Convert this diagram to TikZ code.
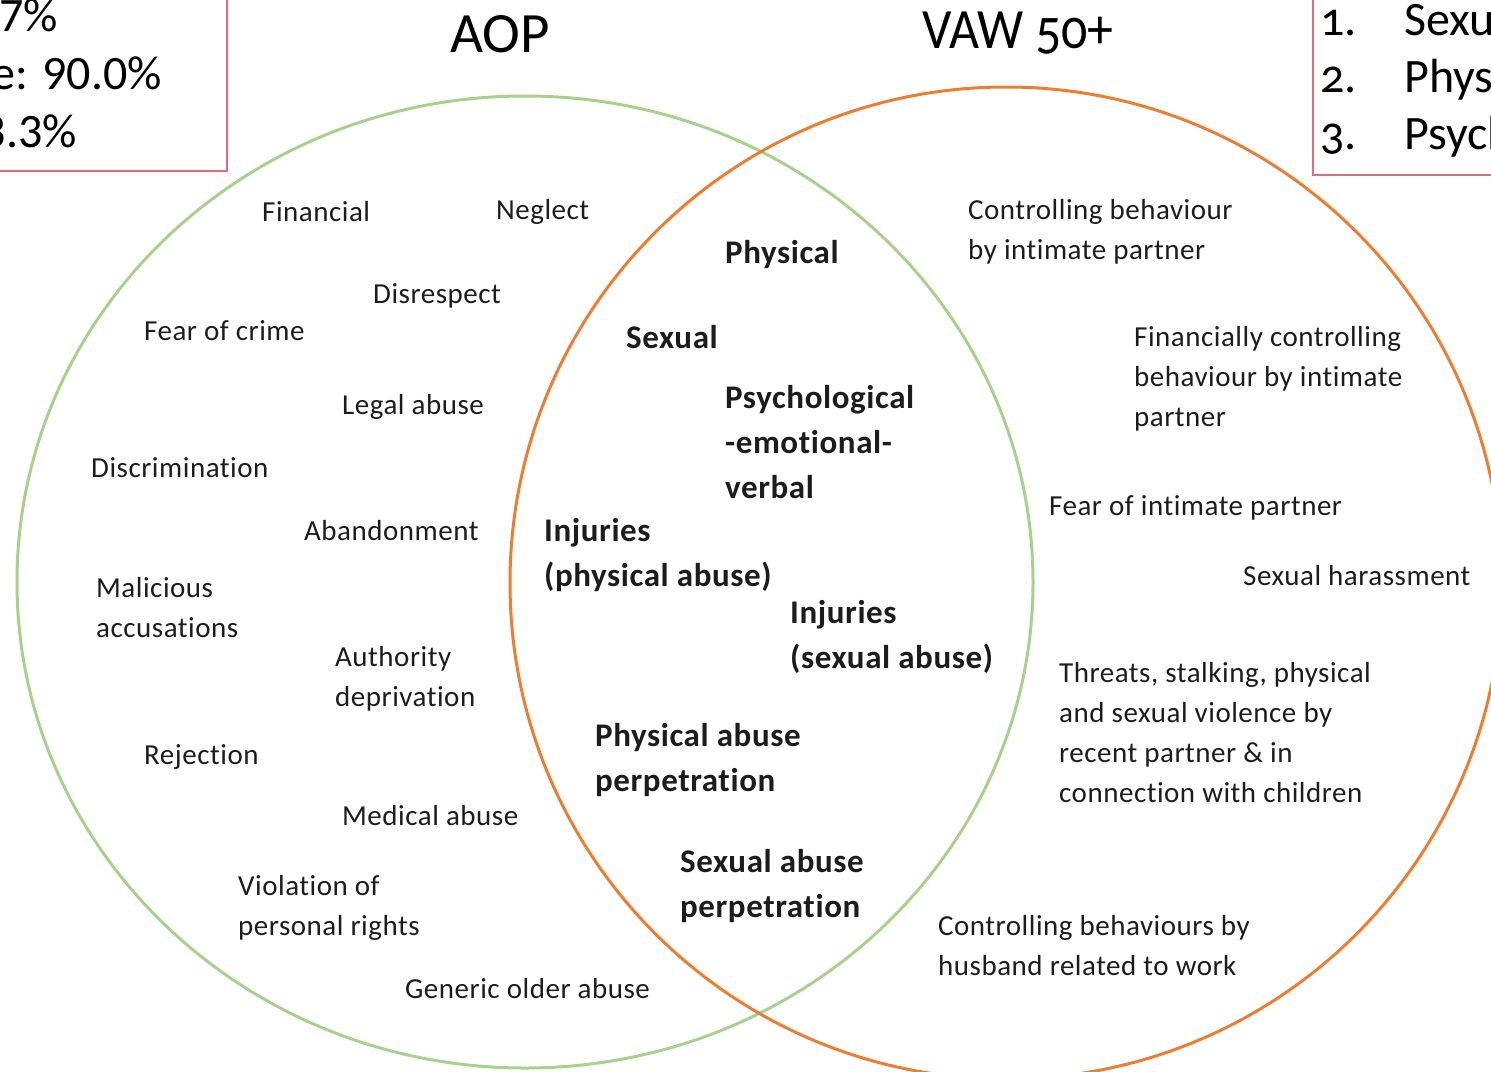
\documentclass[tikz,border=0pt]{standalone}
\usepackage{fontspec}
\setmainfont{Carlito}[Ligatures=NoCommon, LetterSpace=1.8]
\newfontfamily\oldnum{Carlito}[Ligatures=NoCommon, Numbers=OldStyle]
\newfontfamily\plainnum{Carlito}[Ligatures=NoCommon]
\usepackage{graphicx}
\usepackage{xcolor}
\usepackage{tikz}

\definecolor{aopgreen}{RGB}{169,209,142}
\definecolor{vaworange}{RGB}{237,125,49}
\definecolor{boxred}{RGB}{224,108,122}
\definecolor{ink}{RGB}{28,28,28}

\begin{document}
\begin{tikzpicture}[x=1pt, y=-1pt,
        lbl/.style={anchor=west, inner sep=0pt, align=left, text=ink,
            font=\fontsize{29}{40}\selectfont},
        core/.style={anchor=west, inner sep=0pt, align=left, text=ink,
            font=\fontsize{33}{45}\selectfont\bfseries},
        boxtext/.style={inner sep=0pt, text=black,
            font=\oldnum\fontsize{48}{58}\selectfont},
        title/.style={anchor=base west, inner sep=0pt, text=black,
            font=\oldnum\fontsize{57}{60}\selectfont},
    ]
        \useasboundingbox (0,0) rectangle (1491,1071);
        \clip (0,0) rectangle (1491,1071);

        % circles
        \draw[aopgreen, line width=3pt] (525,582) ellipse [x radius=508, y radius=486];
        \draw[vaworange, line width=3pt] (1006,583) circle [radius=496];

        % titles
        \node[title] (aoptitle) at (450,52) {AOP};
        \node[title] (vawtitle) at (922,48) {\scalebox{0.91}[1]{VAW 50+}};

        % boxes
        \draw[boxred, line width=2pt] (-20,-20) rectangle (227,171);
        \node[boxtext, anchor=base east, font=\plainnum\fontsize{48}{58}\selectfont] (boxa) at (58,31) {7\%};
        \node[boxtext, anchor=base east, font=\plainnum\fontsize{48}{58}\selectfont] (boxb) at (162,89) {e: 90.0\%};
        \node[boxtext, anchor=base east, font=\plainnum\fontsize{48}{58}\selectfont] (boxc) at (77,147) {3.3\%};

        \draw[boxred, line width=2pt] (1313,-20) rectangle (1520,175);
        \node[boxtext, anchor=base west] (numa) at (1320,35) {1.};
        \node[boxtext, anchor=base west] (numb) at (1320,92) {2.};
        \node[boxtext, anchor=base west] (numc) at (1320,149) {3.};
        \node[boxtext, anchor=base west] (lista) at (1404,35) {Sexu};
        \node[boxtext, anchor=base west] (listb) at (1404,92) {Phys};
        \node[boxtext, anchor=base west] (listc) at (1404,149) {Psych};

        % AOP
        \node[lbl] (financial) at (262,212) {Financial};
        \node[lbl] (neglect) at (496,212) {Neglect};
        \node[lbl] (disrespect) at (373,296) {Disrespect};
        \node[lbl] (fearcrime) at (144,331) {Fear of crime};
        \node[lbl] (legal) at (342,407) {Legal abuse};
        \node[lbl] (discrimination) at (91,468) {Discrimination};
        \node[lbl] (abandonment) at (304,531) {Abandonment};
        \node[lbl] (malicious) at (96,608) {Malicious\\accusations};
        \node[lbl] (authority) at (335,679) {Authority\\deprivation};
        \node[lbl] (rejection) at (144,757) {Rejection};
        \node[lbl] (medical) at (342,816) {Medical abuse};
        \node[lbl] (violation) at (238,908) {Violation of\\personal rights};
        \node[lbl] (generic) at (405,989) {Generic older abuse};

        % both
        \node[core] (physical) at (725,255) {Physical};
        \node[core] (sexual) at (626,337) {Sexual};
        \node[core] (psych) at (725,442) {Psychological\\-emotional-\\verbal};
        \node[core] (injphys) at (544,555) {Injuries\\(physical abuse)};
        \node[core] (injsex) at (790,637) {Injuries\\(sexual abuse)};
        \node[core] (physperp) at (595,760) {Physical abuse\\perpetration};
        \node[core] (sexperp) at (680,886) {Sexual abuse\\perpetration};

        % VAW 50+
        \node[lbl] (control) at (968,232) {Controlling behaviour\\by intimate partner};
        \node[lbl] (financially) at (1134,379) {Financially controlling\\behaviour by intimate\\partner};
        \node[lbl] (fearpartner) at (1049,508) {Fear of intimate partner};
        \node[lbl] (harassment) at (1243,576) {Sexual harassment};
        \node[lbl] (threats) at (1059,733) {Threats, stalking, physical\\and sexual violence by\\recent partner \& in\\connection with children};
        \node[lbl] (husband) at (938,946) {Controlling behaviours by\\husband related to work};
\end{tikzpicture}
\end{document}
